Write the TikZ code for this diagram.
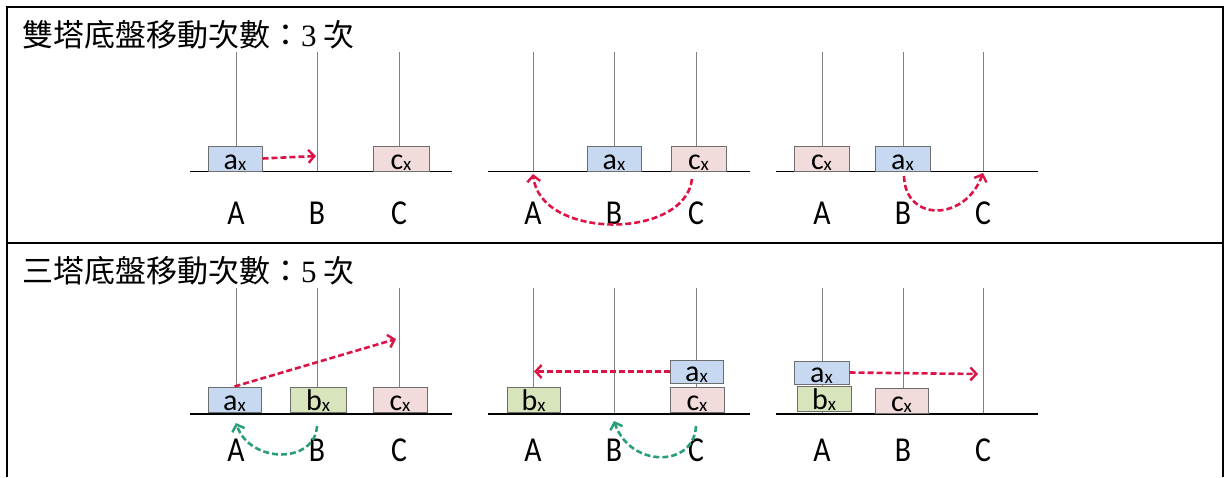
\documentclass[tikz,border=0pt]{standalone}
\usepackage{fontspec}
\setmainfont{Liberation Serif}
\newfontfamily\cjk{Noto Sans CJK TC}
\newfontfamily\labfont{Carlito}
\usetikzlibrary{arrows.meta}
\definecolor{boxblue}{HTML}{C6D9F1}
\definecolor{boxgreen}{HTML}{D8E4BC}
\definecolor{boxpink}{HTML}{F2DCDB}
\definecolor{diskedge}{HTML}{6E6E6E}
\definecolor{polegray}{HTML}{808080}
\definecolor{movered}{HTML}{DC1446}
\definecolor{movegreen}{HTML}{2A9E78}
\newcommand\disklabel[1]{{\fontsize{30}{30}\selectfont #1}\raisebox{-1.5pt}{\fontsize{19}{19}\selectfont x}}
\tikzset{
  pole/.style={draw=polegray, line width=1pt},
  ground/.style={draw=black, line width=1.5pt},
  disk/.style={draw=diskedge, line width=1pt, minimum width=54pt, minimum height=25pt, inner sep=0pt},
  bluedisk/.style={disk, fill=boxblue},
  greendisk/.style={disk, fill=boxgreen},
  pinkdisk/.style={disk, fill=boxpink},
  disktext/.style={anchor=base, inner sep=0pt, font=\labfont},
  peglabel/.style={inner sep=0pt, font=\labfont\fontsize{35}{35}\selectfont},
  titletext/.style={anchor=base west, inner sep=0pt, font=\cjk\fontsize{31}{31}\selectfont},
  frame/.style={draw=black, line width=2.6pt},
  move/.style={line width=2.6pt, dash pattern=on 6pt off 3pt,
    -{Straight Barb[length=6pt,width=13pt,line width=2.4pt]}},
  redmove/.style={move, draw=movered},
  greenmove/.style={move, draw=movegreen}
}
\begin{document}
\begin{tikzpicture}[x=1pt,y=-1pt]
\useasboundingbox (0,0) rectangle (1226,477);
% frame
\draw[frame] (7,477) -- (7,7) -- (1223,7) -- (1223,477);
\draw[frame] (7,243) -- (1223,243);
% titles
\node[titletext] (title1) at (22,46) {雙塔底盤移動次數：{\rmfamily 3} 次};
\node[titletext] (title2) at (22,282) {三塔底盤移動次數：{\rmfamily 5} 次};

% ---------- top row: poles and grounds ----------
\foreach \x in {236,317,399,533,614,696,822,903,983} {\draw[pole] (\x,52) -- (\x,171.5);}
\draw[ground] (190,171.5) -- (452,171.5);
\draw[ground] (488,171.5) -- (750,171.5);
\draw[ground] (776,171.5) -- (1038,171.5);
% ---------- bottom row: poles and grounds ----------
\foreach \x in {236,317,399,533,614,696,822,903,983} {\draw[pole] (\x,288) -- (\x,414);}
\draw[ground] (190,414) -- (452,414);
\draw[ground] (488,414) -- (750,414);
\draw[ground] (776,414) -- (1038,414);

% peg labels
\foreach \x/\l [count=\i] in {236/A,317/B,399/C,533/A,614/B,696/C,822/A,903/B,983/C} {
  \node[peglabel] (tl\i) at (\x,213) {\scalebox{0.85}[1]{\l}};
  \node[peglabel] (bl\i) at (\x,450) {\scalebox{0.85}[1]{\l}};
}

% ---------- top disks ----------
\node[bluedisk] (ta1) at (235,158.5) {};
\node[pinkdisk, minimum width=56pt] (tc1) at (401,158.5) {};
\node[bluedisk] (ta2) at (614,158.5) {};
\node[pinkdisk, minimum width=55pt] (tc2) at (698.5,158.5) {};
\node[pinkdisk, minimum width=55pt] (tc3) at (821.5,158.5) {};
\node[bluedisk, minimum width=55pt] (ta3) at (902.5,158.5) {};

% ---------- bottom disks ----------
\node[bluedisk, minimum width=53pt] (ba1) at (234.5,399.5) {};
\node[greendisk, minimum width=56pt] (bb1) at (318,399.5) {};
\node[pinkdisk] (bc1) at (400,399.5) {};
\node[greendisk, minimum width=53pt] (bb2) at (533.5,399.5) {};
\node[pinkdisk] (bc2) at (697,399.5) {};
\node[bluedisk, minimum width=53pt, minimum height=23pt] (ba2) at (696.5,371.5) {};
\node[greendisk] (bb3) at (824,398.5) {};
\node[bluedisk, minimum width=55pt, minimum height=23pt] (ba3) at (821.5,372.5) {};
\node[pinkdisk, minimum width=53pt] (bc3) at (901.5,400.5) {};

% disk texts
\foreach \d/\l in {ta1/a,tc1/c,ta2/a,tc2/c,tc3/c,ta3/a,ba1/a,bb1/b,bc1/c,bb2/b,bc2/c,ba2/a,bb3/b,ba3/a,bc3/c} {
  \node[disktext] (\d t) at ([yshift=2.5pt]\d.south) {\disklabel{\l}};
}

% ---------- moves (top) ----------
\coordinate (m1end) at (316,156);
\draw[redmove] (ta1.east) -- (m1end);
\coordinate (m2start) at (692,179);
\coordinate (m2end) at (533,174);
\draw[redmove] (m2start) .. controls (685,240) and (540,240) .. (m2end);
\coordinate (m3start) at (904,176);
\coordinate (m3end) at (983,173);
\draw[redmove] (m3start) .. controls (905,222) and (965,222) .. (m3end);

% ---------- moves (bottom) ----------
\coordinate (m4end) at (396,339);
\draw[redmove] (ba1.north) -- (m4end);
\coordinate (m5start) at (317,426);
\coordinate (m5end) at (236,423);
\draw[greenmove] (m5start) .. controls (315,464) and (250,464) .. (m5end);
\coordinate (m6end) at (534,371.5);
\draw[redmove] (ba2.west) -- (m6end);
\coordinate (m7start) at (696,426);
\coordinate (m7end) at (614,421);
\draw[greenmove] (m7start) .. controls (694,468) and (630,468) .. (m7end);
\coordinate (m8end) at (978,374);
\draw[redmove] (ba3.east) -- (m8end);
\end{tikzpicture}
\end{document}
